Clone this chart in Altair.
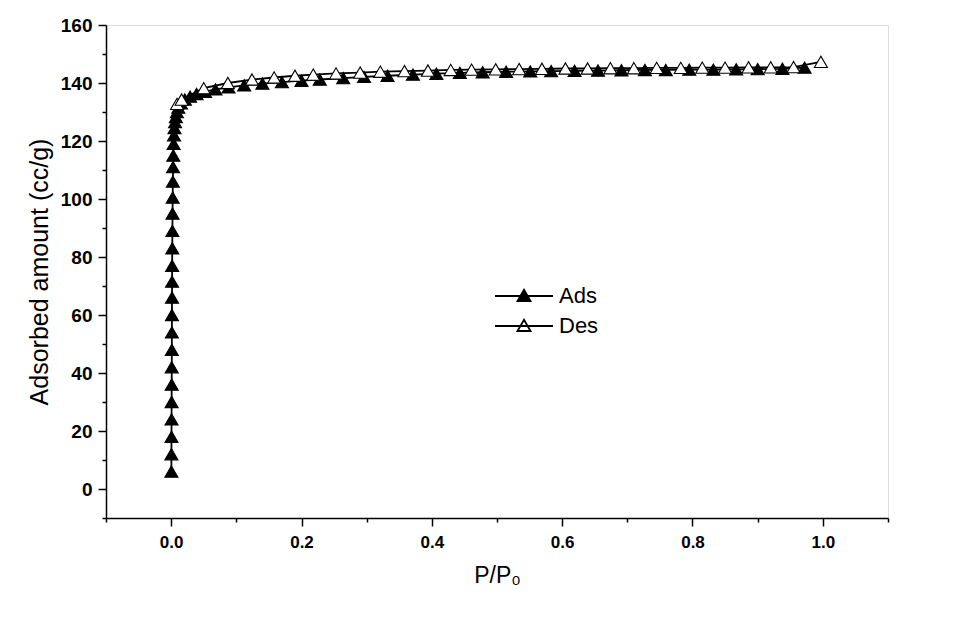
import altair as alt
import pandas as pd

ads_p = [0.0003, 0.0004, 0.0005, 0.0006, 0.0007, 0.0008, 0.0009, 0.0010, 0.0011, 0.0012,
         0.0013, 0.0014, 0.0015, 0.0017, 0.0019, 0.0021, 0.0023, 0.0026, 0.0029, 0.0033,
         0.0038, 0.0044, 0.0051, 0.0060, 0.0072, 0.0088, 0.011, 0.015, 0.021, 0.029,
         0.039, 0.052, 0.068, 0.088, 0.112, 0.140, 0.170, 0.200, 0.228, 0.264,
         0.296, 0.332, 0.371, 0.407, 0.443, 0.478, 0.514, 0.551, 0.583, 0.619,
         0.655, 0.691, 0.727, 0.759, 0.795, 0.832, 0.867, 0.900, 0.938, 0.972]
ads_v = [6, 12, 18, 24, 30, 36, 42, 48, 54, 60,
         66, 71.5, 77, 83, 89, 95, 100.5, 106, 111, 115,
         119, 122, 124.5, 126.5, 128.3, 130, 131.5, 133, 134.3, 135.3,
         136.2, 137, 137.8, 138.5, 139.2, 139.8, 140.3, 140.8, 141.2, 141.7,
         142.1, 142.5, 142.9, 143.2, 143.5, 143.7, 143.9, 144.0, 144.1, 144.2,
         144.3, 144.4, 144.5, 144.5, 144.6, 144.6, 144.7, 144.8, 144.9, 145.3]

des_p = [0.009, 0.016, 0.050, 0.087, 0.124, 0.158, 0.190, 0.218, 0.253, 0.290,
         0.321, 0.358, 0.394, 0.429, 0.461, 0.498, 0.534, 0.569, 0.605, 0.639,
         0.674, 0.710, 0.745, 0.782, 0.815, 0.850, 0.886, 0.920, 0.955, 0.997]
des_v = [132.8, 134.3, 138.2, 140.0, 141.2, 141.9, 142.5, 142.9, 143.3, 143.6,
         143.9, 144.1, 144.3, 144.5, 144.6, 144.7, 144.8, 144.9, 145.0, 145.0,
         145.1, 145.1, 145.2, 145.2, 145.3, 145.3, 145.4, 145.4, 145.5, 147.3]

x_ticks = [round(-0.1 + 0.1 * i, 1) for i in range(13)]
y_ticks = list(range(-10, 161, 10))

rows = []
for i, (p, v) in enumerate(zip(ads_p, ads_v)):
    rows.append({"p": p, "v": v, "series": "Ads", "idx": i})
for i, (p, v) in enumerate(zip(des_p, des_v)):
    rows.append({"p": p, "v": v, "series": "Des", "idx": i})
df = pd.DataFrame(rows)

FONT = "Liberation Sans"

x_enc = alt.X(
    "p:Q",
    scale=alt.Scale(domain=[-0.1, 1.1], nice=False, zero=False),
    axis=alt.Axis(
        values=x_ticks,
        title="P/P₀",
        titleFont=FONT, titleFontSize=23, titleFontWeight="normal", titleColor="black",
        titlePadding=14,
        labelFont=FONT, labelFontSize=17, labelFontWeight="bold", labelColor="black",
        labelExpr="round(datum.value*10) % 2 == 0 ? format(datum.value, '.1f') : ''",
        labelPadding=8,
        tickSize={"condition": {"test": "round(datum.value*10) % 2 == 0", "value": 8}, "value": 4},
        tickColor="black", tickWidth=1.5,
        domainColor="black", domainWidth=1.5,
        grid=False,
    ),
)
y_enc = alt.Y(
    "v:Q",
    scale=alt.Scale(domain=[-10, 160], nice=False, zero=False),
    axis=alt.Axis(
        values=y_ticks,
        title="Adsorbed amount (cc/g)",
        titleFont=FONT, titleFontSize=25, titleFontWeight="normal", titleColor="black",
        titlePadding=8,
        labelFont=FONT, labelFontSize=19, labelFontWeight="bold", labelColor="black",
        labelExpr="datum.value % 20 == 0 ? format(datum.value, 'd') : ''",
        labelPadding=6,
        tickSize={"condition": {"test": "datum.value % 20 == 0", "value": 8}, "value": 4},
        tickColor="black", tickWidth=1.5,
        domainColor="black", domainWidth=1.5,
        grid=False,
    ),
)

base = alt.Chart(df)

lines = base.mark_line(color="black", strokeWidth=1.8).encode(
    x=x_enc, y=y_enc, detail="series:N", order="idx:Q"
)

legend_path = "M-2.9,0 H2.9 M0,-0.62 L0.65,0.5 L-0.65,0.5 Z"

points = base.mark_point(shape="triangle-up", size=170, opacity=1, stroke="black",
                         strokeWidth=1.1).encode(
    x=x_enc, y=y_enc,
    fill=alt.Fill(
        "series:N",
        scale=alt.Scale(domain=["Ads", "Des"], range=["black", "white"]),
        legend=alt.Legend(
            title=None, orient="none", legendX=407, legendY=260,
            symbolType=legend_path, symbolSize=400,
            symbolStrokeColor="black", symbolStrokeWidth=1.8,
            labelFont=FONT, labelFontSize=22, labelColor="black",
            labelOffset=24, rowPadding=8,
        ),
    ),
)

chart = alt.layer(lines, points).properties(
    width=782, height=493,
    autosize=alt.AutoSizeParams(type="none"),
    padding={"left": 98, "top": 17, "right": 60, "bottom": 100},
).configure_view(stroke="black", strokeWidth=1.5).configure(background="white")

chart.save("out.html", embed_options={"renderer": "svg", "actions": False})
